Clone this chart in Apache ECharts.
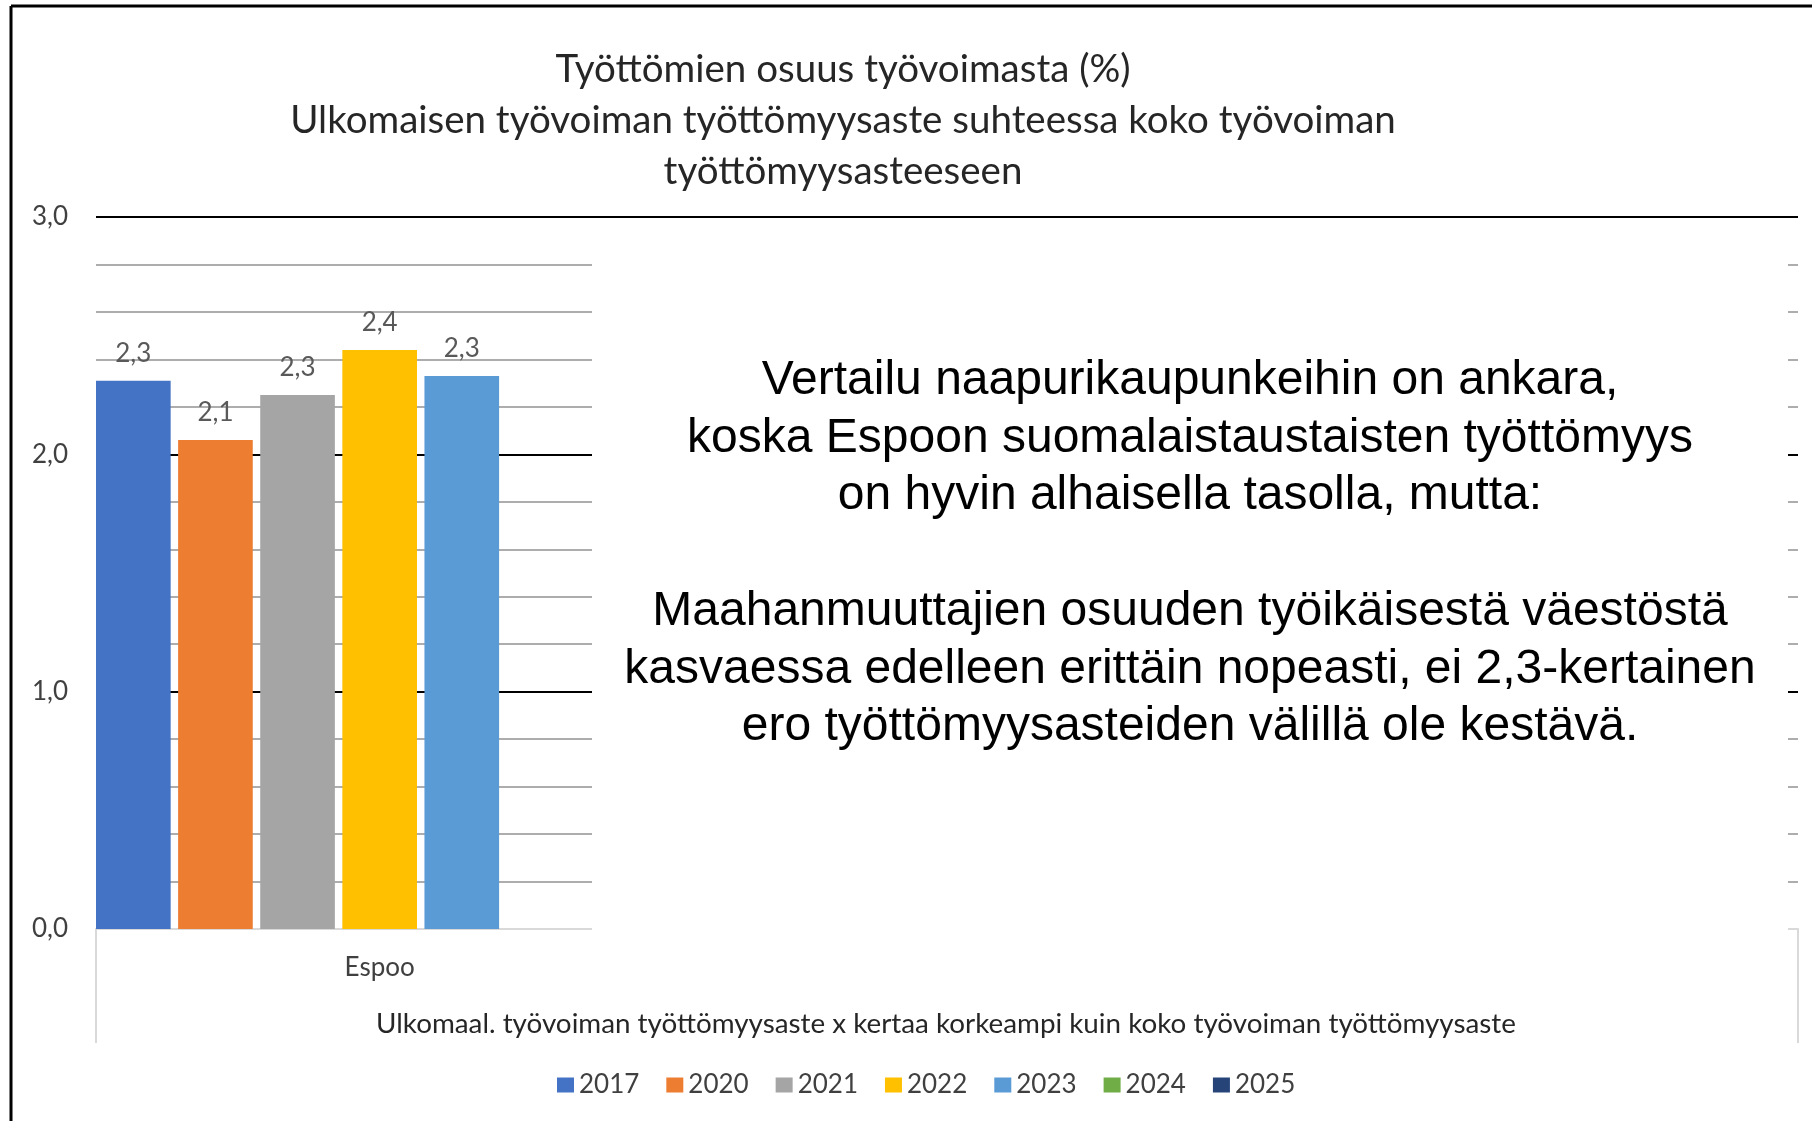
<!DOCTYPE html>
<html>
<head>
<meta charset="utf-8">
<script src="https://cdn.jsdelivr.net/npm/echarts@6/dist/echarts.min.js"></script>
<style>
    html, body { margin: 0; padding: 0; background: #fff; }
    #chart1 { width: 1812px; height: 1121px; }
</style>
</head>
<body>
<div id="chart1"></div>
<script>
// chart data
var categories = ['Espoo', '', ''];
var years = ['2017', '2020', '2021', '2022', '2023', '2024', '2025'];
var espooValues = [2.31, 2.06, 2.25, 2.44, 2.33, null, null];
var yTicks = [0, 1, 2, 3];

var titleLines = [
    'Työttömien osuus työvoimasta (%)',
    'Ulkomaisen työvoiman työttömyysaste suhteessa koko työvoiman',
    'työttömyysasteeseen'
];
var axisTitle = 'Ulkomaal. työvoiman työttömyysaste x kertaa korkeampi kuin koko työvoiman työttömyysaste';
var noteLines = [
    'Vertailu naapurikaupunkeihin on ankara,',
    'koska Espoon suomalaistaustaisten työttömyys',
    'on hyvin alhaisella tasolla, mutta:',
    '',
    'Maahanmuuttajien osuuden työikäisestä väestöstä',
    'kasvaessa edelleen erittäin nopeasti, ei 2,3-kertainen',
    'ero työttömyysasteiden välillä ole kestävä.'
];

var colors = ['#4472C4', '#ED7D31', '#A5A5A5', '#FFC000', '#5B9BD5', '#70AD47', '#264478'];

function fmt(v) {
    return Number(v).toFixed(1).replace('.', ',');
}

var seriesList = [];
for (var i = 0; i < years.length; i++) {
    var d = [espooValues[i]];
    for (var k = 1; k < categories.length; k++) d.push(null);
    seriesList.push({
        name: years[i],
        type: 'bar',
        data: d,
        barGap: '10%',
        barCategoryGap: 0,
        label: {
            show: true,
            position: 'top',
            distance: 14,
            fontFamily: 'Lato',
            fontSize: 26,
            color: '#595959',
            formatter: function (p) { return fmt(p.value); }
        }
    });
}

var myChart = echarts.init(document.getElementById('chart1'));

var option = {
    color: colors,
    animation: false,
    textStyle: { fontFamily: 'Lato' },
    title: {
        text: titleLines.join('\n'),
        left: 838,
        top: 39,
        textAlign: 'center',
        textStyle: {
            fontFamily: 'Lato',
            fontWeight: 'normal',
            fontSize: 38.5,
            lineHeight: 51,
            color: '#262626'
        }
    },
    legend: {
        data: years,
        left: 552,
        top: 1067,
        icon: 'rect',
        itemWidth: 17,
        itemHeight: 15,
        itemGap: 27,
        textStyle: { fontFamily: 'Lato', fontSize: 26, color: '#404040' }
    },
    grid: {
        left: 96,
        right: 14,
        top: 217,
        bottom: 192
    },
    xAxis: [
        {
            type: 'category',
            data: categories,
            axisLine: { show: true, lineStyle: { color: '#d9d9d9', width: 2 } },
            axisTick: { show: true, length: 114, lineStyle: { color: '#d9d9d9', width: 2 } },
            axisLabel: { margin: 26, fontFamily: 'Lato', fontSize: 26, color: '#404040' }
        }
    ],
    yAxis: [
        {
            type: 'value',
            min: yTicks[0],
            max: yTicks[yTicks.length - 1],
            interval: 1,
            axisLine: { show: false },
            axisTick: { show: false },
            axisLabel: {
                margin: 28,
                fontFamily: 'Lato',
                fontSize: 26,
                color: '#404040',
                formatter: function (v) { return fmt(v); }
            },
            splitLine: { lineStyle: { color: ['#d9d9d9', '#000000', '#000000', '#000000'], width: 2 } },
            minorTick: { show: false, splitNumber: 5 },
            minorSplitLine: { show: true, lineStyle: { color: '#adadad', width: 2 } }
        }
    ],
    graphic: [
        // frame of the slide
        { type: 'line', z: 10, shape: { x1: 11, y1: 6, x2: 1812, y2: 6 }, style: { stroke: '#000', lineWidth: 3 } },
        { type: 'line', z: 10, shape: { x1: 11, y1: 6, x2: 11, y2: 1121 }, style: { stroke: '#000', lineWidth: 3 } },
        // white text box on top of the chart
        { type: 'rect', z: 1, shape: { x: 592, y: 238, width: 1196, height: 812 }, style: { fill: '#fff' } },
        {
            type: 'text', z: 3, x: 1190, y: 352,
            style: {
                text: noteLines.join('\n'),
                align: 'center',
                verticalAlign: 'top',
                fontFamily: 'Liberation Sans',
                fontSize: 48,
                lineHeight: 57.7,
                fill: '#000'
            }
        },
        {
            type: 'text', z: 3, x: 946, y: 1024,
            style: {
                text: axisTitle,
                align: 'center',
                verticalAlign: 'middle',
                fontFamily: 'Lato',
                fontSize: 27.8,
                fill: '#262626'
            }
        }
    ],
    series: seriesList
};

myChart.setOption(option);
</script>
</body>
</html>
